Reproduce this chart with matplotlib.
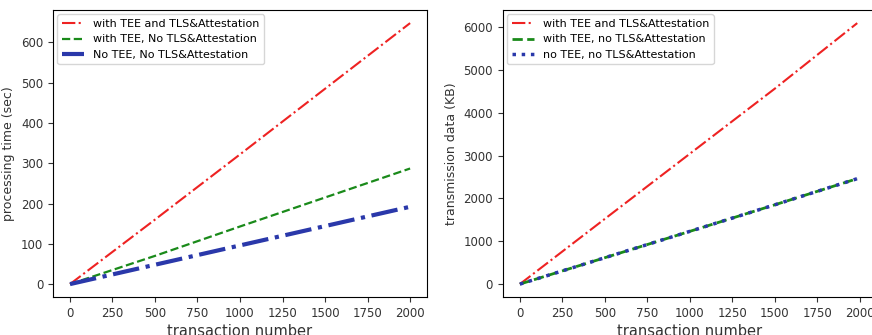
import numpy as np
import matplotlib
matplotlib.use("Agg")
import matplotlib.pyplot as plt

# transaction counts read at a few points along each (straight) line
tx = [1, 500, 1000, 1500, 2000]

# processing time (sec)
time_tee_tls = [0, 160, 322, 485, 648]
time_tee = [0, 70, 143, 215, 287]
time_none = [0, 48, 96, 144, 192]

# transmission data (KB)
tx2 = [1, 500, 1000, 1500, 1985]
data_tee_tls = [0, 1520, 3040, 4560, 6090]
data_tee = [0, 615, 1230, 1850, 2460]
data_none = [0, 615, 1230, 1850, 2460]

left_labels = ["with TEE and TLS&Attestation", "with TEE, No TLS&Attestation", "No TEE, No TLS&Attestation"]
right_labels = ["with TEE and TLS&Attestation", "with TEE, no TLS&Attestation", "no TEE, no TLS&Attestation"]

plt.rcParams['font.family'] = 'DejaVu Sans'
fig = plt.figure(figsize=(8.72, 3.35), dpi=100)

ax1 = fig.add_axes([0.0608, 0.113, 0.429, 0.857])
ax1.plot(tx, time_tee_tls, color='#ee2222', linestyle='-.', lw=1.5, label=left_labels[0])
ax1.plot(tx, time_tee, color='#1a8a1a', linestyle='--', lw=1.6, label=left_labels[1])
ax1.plot(tx, time_none, color='#2a38aa', linestyle='-.', lw=3, label=left_labels[2])
ax1.set_xticks([0, 250, 500, 750, 1000, 1250, 1500, 1750, 2000])
ax1.set_yticks([0, 100, 200, 300, 400, 500, 600])
ax1.set_ylabel("processing time (sec)", fontsize=9, color='#333333')
ax1.set_xlabel("transaction number", fontsize=10.5, color='#333333', labelpad=3)
ax1.legend(loc='upper left', fontsize=8, handlelength=2, borderaxespad=0.4)

ax2 = fig.add_axes([0.5765, 0.113, 0.429, 0.857])
ax2.plot(tx2, data_tee_tls, color='#ee2222', linestyle='-.', lw=1.5, label=right_labels[0])
ax2.plot(tx2, data_tee, color='#1a8a1a', linestyle='--', lw=2, label=right_labels[1])
ax2.plot(tx2, data_none, color='#2a38aa', linestyle=':', lw=2.5, label=right_labels[2])
ax2.set_xticks([0, 250, 500, 750, 1000, 1250, 1500, 1750, 2000])
ax2.set_yticks([0, 1000, 2000, 3000, 4000, 5000, 6000])
ax2.set_xlim(-100, 2100)
ax2.set_ylabel("transmission data (KB)", fontsize=9, color='#333333')
ax2.set_xlabel("transaction number", fontsize=10.5, color='#333333', labelpad=3)
ax2.legend(loc='upper left', fontsize=8, handlelength=2, borderaxespad=0.4)

for ax in (ax1, ax2):
    ax.tick_params(labelsize=8.5, colors='#333333')

fig.savefig("out.png", dpi=100)
